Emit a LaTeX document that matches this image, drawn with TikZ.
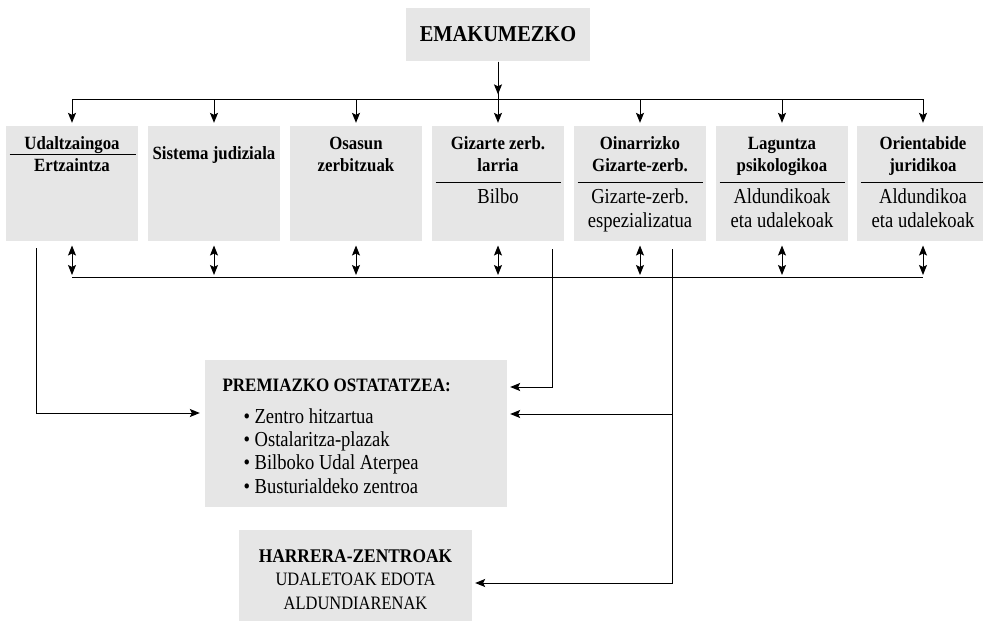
\documentclass[tikz,border=0pt]{standalone}
\usepackage{fontspec}
\setmainfont{Liberation Serif}
\newfontfamily\boldface[FakeStretch=0.9]{Liberation Serif}
\newfontfamily\plainface[FakeStretch=0.87]{Liberation Serif}
\usetikzlibrary{arrows.meta,calc}
\definecolor{boxgray}{RGB}{230,230,230}

\tikzset{every picture/.style={line width=0.75pt}}

\begin{document}
\begin{tikzpicture}[x=0.75pt,y=0.75pt,yscale=-1,xscale=1,
  box/.style={fill=boxgray,draw=none,inner sep=0pt,minimum width=99pt,minimum height=86.25pt},
  head/.style={font=\boldface\bfseries\fontsize{14}{16.5}\selectfont,align=center,inner sep=0pt,anchor=base},
  sub/.style={font=\plainface\fontsize{16}{18}\selectfont,align=center,inner sep=0pt,anchor=base},
  arr/.style={-{Stealth[length=7.5pt,width=6pt,inset=1.5pt]}},
  dbl/.style={{Stealth[length=7.5pt,width=6pt,inset=1.5pt]}-{Stealth[length=7.5pt,width=6pt,inset=1.5pt]}},
  rule/.style={line width=0.6pt}]
\useasboundingbox (0,0) rectangle (983,621);

%Shape: top box
\node [box,minimum width=138pt,minimum height=39.75pt,font=\boldface\bfseries\fontsize{17}{19}\selectfont] (top) at (498,34.5) {EMAKUMEZKO};

%Shape: service boxes
\node [box] (udal) at (72,183.5) {};
\node [box] (sist) at (214,183.5) {};
\node [box] (osas) at (356,183.5) {};
\node [box] (gizl) at (498,183.5) {};
\node [box] (oina) at (640,183.5) {};
\node [box] (lagu) at (782,183.5) {};
\node [box] (orie) at (923,183.5) {};

%Shape: lower boxes
\node [box,minimum width=226.5pt,minimum height=110.25pt] (prem) at (356,433.5) {};
\node [box,minimum width=174.75pt,minimum height=68.25pt] (harr) at (355.5,575.5) {};

%Junctions
\coordinate (hub) at (498,99);
\coordinate (bus) at (498,277);

%Straight Lines: from top box
\draw (top.south) -- (hub);
\draw [arr,shorten >=3.5pt] (top.south) -- (hub);
\draw (udal.north |- hub) -- (orie.north |- hub);
\draw [arr,shorten >=2pt] (udal.north |- hub) -- (udal.north);
\draw [arr,shorten >=2pt] (sist.north |- hub) -- (sist.north);
\draw [arr,shorten >=2pt] (osas.north |- hub) -- (osas.north);
\draw [arr,shorten >=2pt] (gizl.north |- hub) -- (gizl.north);
\draw [arr,shorten >=2pt] (oina.north |- hub) -- (oina.north);
\draw [arr,shorten >=2pt] (lagu.north |- hub) -- (lagu.north);
\draw [arr,shorten >=2pt] (orie.north |- hub) -- (orie.north);

%Straight Lines: common line below
\draw (udal.south |- bus) -- (orie.south |- bus);
\draw [dbl,shorten <=3pt,shorten >=1.5pt] (udal.south) -- (udal.south |- bus);
\draw [dbl,shorten <=3pt,shorten >=1.5pt] (sist.south) -- (sist.south |- bus);
\draw [dbl,shorten <=3pt,shorten >=1.5pt] (osas.south) -- (osas.south |- bus);
\draw [dbl,shorten <=3pt,shorten >=1.5pt] (gizl.south) -- (gizl.south |- bus);
\draw [dbl,shorten <=3pt,shorten >=1.5pt] (oina.south) -- (oina.south |- bus);
\draw [dbl,shorten <=3pt,shorten >=1.5pt] (lagu.south) -- (lagu.south |- bus);
\draw [dbl,shorten <=3pt,shorten >=1.5pt] (orie.south) -- (orie.south |- bus);

%Straight Lines: to the lower boxes
\coordinate (s1) at (36,248);
\coordinate (s4) at (552,249);
\coordinate (s5) at (672,249);
\draw [arr,shorten >=3.5pt] (s1) |- (prem.west |- 0,413);
\draw [arr,shorten >=2pt] (s4) |- (prem.east |- 0,387);
\draw [arr,shorten >=2pt] (s5 |- 0,414) -- (prem.east |- 0,414);
\draw [arr,shorten >=2pt] (s5) |- (harr.east |- 0,583);

%Dividers
\draw [rule] ($(udal.north west)+(4,29)$) -- ($(udal.north east)+(-3,29)$);
\draw [rule] ($(gizl.north west)+(4,57)$) -- ($(gizl.north east)+(-4,57)$);
\draw [rule] ($(oina.north west)+(4,57)$) -- ($(oina.north east)+(-4,57)$);
\draw [rule] ($(lagu.north west)+(4,57)$) -- ($(lagu.north east)+(-4,57)$);
\draw [rule] ($(orie.north west)+(4,57)$) -- ($(orie.north east)+(-4,57)$);

% Text Node (base = last line)
\node [head] (udalt) at (72,149) {Udaltzaingoa};
\node [head] (ertz) at (72,171) {Ertzaintza};
\node [head] (sistt) at (214,159) {Sistema judiziala};
\node [head] (osast) at (356,171) {Osasun\\zerbitzuak};
\node [head] (gizlt) at (498,171) {Gizarte zerb.\\larria};
\node [sub] (gizls) at (498,203) {Bilbo};
\node [head] (oinat) at (640,171) {Oinarrizko\\Gizarte-zerb.};
\node [sub] (oinas) at (640,227) {Gizarte-zerb.\\espezializatua};
\node [head] (lagut) at (782,171) {Laguntza\\psikologikoa};
\node [sub] (lagus) at (782,227) {Aldundikoak\\eta udalekoak};
\node [head] (oriet) at (923,171) {Orientabide\\juridikoa};
\node [sub] (ories) at (923,227) {Aldundikoa\\eta udalekoak};
% Text Node
\node [head,anchor=base west,font=\boldface\bfseries\fontsize{14.2}{16}\selectfont] (premt) at (222,391) {PREMIAZKO OSTATATZEA:};
\node [sub,anchor=base west,align=left,font=\plainface\fontsize{16}{17.5}\selectfont] (prems) at (243,493) {• Zentro hitzartua\\• Ostalaritza-plazak\\• Bilboko Udal Aterpea\\• Busturialdeko zentroa};
% Text Node
\node [sub,font=\plainface\fontsize{14.2}{17.6}\selectfont] (harrt) at (355.5,609) {{\boldface\bfseries\fontsize{14.5}{17.6}\selectfont HARRERA-ZENTROAK}\\UDALETOAK EDOTA\\ALDUNDIARENAK};

\end{tikzpicture}
\end{document}
